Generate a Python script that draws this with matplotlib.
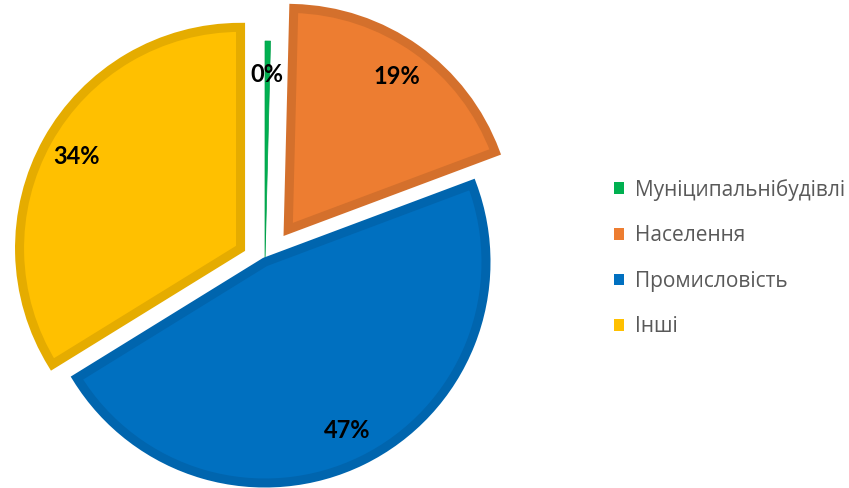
import matplotlib.pyplot as plt
from matplotlib.patches import Patch

# Data
categories = ['Муніципальнібудівлі', 'Населення', 'Промисловість', 'Інші']
shares = [0.4, 18.9, 46.9, 33.8]
face_colors = ['#00B050', '#ED7D31', '#0070C0', '#FFC000']
edge_colors = ['#00A04A', '#D4702C', '#0065AE', '#E5AC00']

radius = 221
# explode offsets are in data units (pixels here)
explode = [0, 40, 0, 28]

fig = plt.figure(figsize=(8.49, 4.88), dpi=100)
ax = fig.add_axes([0, 0, 1, 1])

wedges, texts, pcts = ax.pie(
    shares, explode=explode, colors=face_colors, startangle=90,
    counterclock=False, center=(265, 226), radius=radius,
    autopct='%1.0f%%', pctdistance=0.85,
    wedgeprops=dict(linewidth=6.5, joinstyle='miter'),
    textprops=dict(family=['Lato', 'DejaVu Sans'], fontweight='bold',
                   fontsize=17, color='black'))

for w, ec in zip(wedges, edge_colors):
    w.set_edgecolor(ec)
# the tiny green slice has no visible border
wedges[0].set_linewidth(0.5)

ax.set_xlim(0, 849)
ax.set_ylim(0, 488)
ax.set_aspect('equal')
ax.axis('off')

handles = [Patch(facecolor=c, edgecolor='none') for c in face_colors]
leg = ax.legend(handles, categories, loc='center left',
                bbox_to_anchor=(614 / 849, 230 / 488), frameon=False,
                borderpad=0, borderaxespad=0, handlelength=0.48,
                handleheight=0.48, handletextpad=0.53, labelspacing=1.18,
                prop=dict(family=['Open Sans', 'DejaVu Sans'], size=15))
for t in leg.get_texts():
    t.set_color('#595959')

fig.savefig('out.png', dpi=100)
